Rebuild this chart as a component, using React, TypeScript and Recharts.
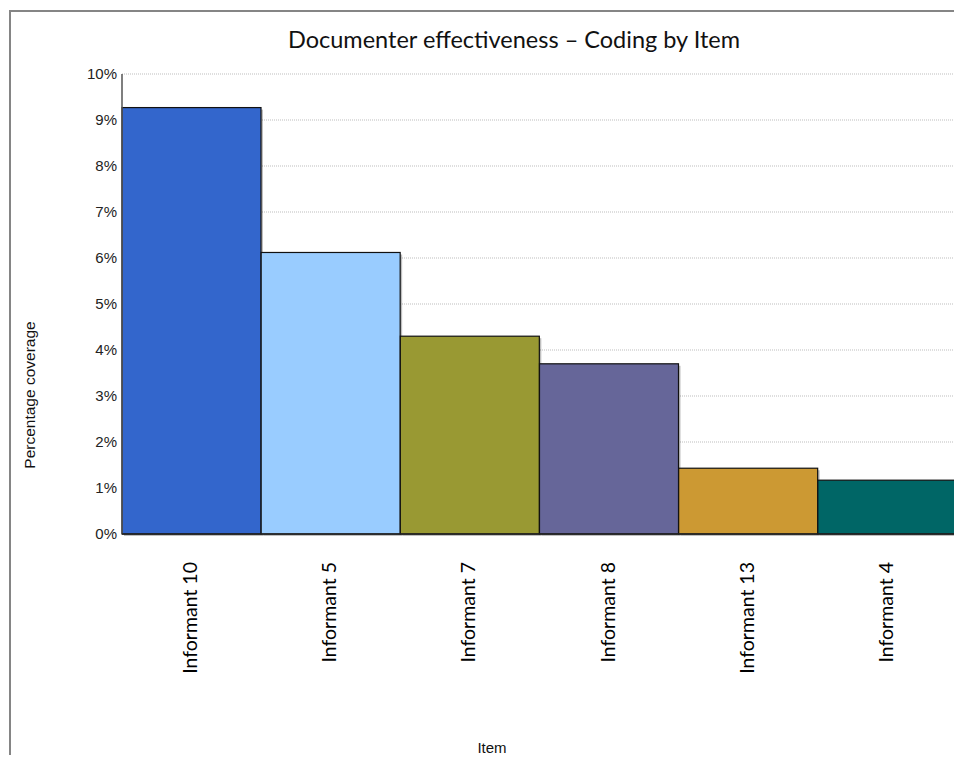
import { BarChart, Bar, XAxis, YAxis, CartesianGrid, Cell } from 'recharts'

const items = ['Informant 10', 'Informant 5', 'Informant 7', 'Informant 8', 'Informant 13', 'Informant 4']
const coverage = [9.27, 6.12, 4.3, 3.7, 1.43, 1.17]
const barColors = ['#3366CC', '#99CCFF', '#999933', '#666699', '#CC9933', '#006666']
const yTicks = [0, 1, 2, 3, 4, 5, 6, 7, 8, 9, 10]

const data = items.map((item, i) => ({ item, coverage: coverage[i] }))

const tickFont = '"Liberation Sans", Arial, sans-serif'
const titleFont = 'Lato, "Open Sans", sans-serif'

// bar with a soft drop shadow behind it
const ShadowBar = (props: any) => {
  const { x, y, width, height, fill } = props
  if (!height) return null
  return (
    <g>
      <rect x={x + 2} y={y + 2} width={width} height={height} fill="#000" fillOpacity={0.25} />
      <rect x={x} y={y} width={width} height={height} fill={fill} stroke="#111" strokeWidth={1.2} />
    </g>
  )
}

const ItemTick = (props: any) => {
  const { x, y, payload } = props
  return (
    <text
      x={x - 2}
      y={y}
      transform={`rotate(-90, ${x - 2}, ${y})`}
      textAnchor="end"
      dominantBaseline="central"
      fontFamily={titleFont}
      fontSize={19.5}
      fill="#000"
    >
      {payload.value}
    </text>
  )
}

export default function App() {
  return (
    <div style={{ position: 'relative', width: 954, height: 747, overflow: 'hidden', background: '#fff' }}>
      <div
        style={{
          position: 'absolute',
          left: 1,
          top: 2,
          width: 1000,
          height: 800,
          borderTop: '2px solid #858585',
          borderLeft: '2px solid #858585',
        }}
      />
      <div
        style={{
          position: 'absolute',
          left: 0,
          width: 1012,
          top: 17,
          textAlign: 'center',
          fontFamily: titleFont,
          fontSize: 23.5,
          color: '#111',
        }}
      >
        Documenter effectiveness – Coding by Item
      </div>

      <BarChart
        width={954}
        height={747}
        data={data}
        margin={{ top: 66, right: 5, left: 0, bottom: 71 }}
        barCategoryGap={0}
        style={{ position: 'absolute', left: 0, top: 0 }}
      >
        <CartesianGrid vertical={false} stroke="#bdbdbd" strokeDasharray="1 1" />
        <YAxis
          width={114}
          domain={[0, 10]}
          ticks={yTicks}
          tickFormatter={(v: number) => `${v}%`}
          tickLine={false}
          tickSize={0}
          tickMargin={5}
          axisLine={{ stroke: '#555', strokeWidth: 1.5 }}
          tick={{ fontFamily: tickFont, fontSize: 15, fill: '#222' }}
          interval={0}
        />
        <XAxis
          dataKey="item"
          height={150}
          tickLine={false}
          tickSize={0}
          tickMargin={28}
          axisLine={{ stroke: '#222', strokeWidth: 1.5 }}
          tick={<ItemTick />}
          interval={0}
        />
        <Bar dataKey="coverage" shape={<ShadowBar />} isAnimationActive={false}>
          {data.map((d, i) => (
            <Cell key={d.item} fill={barColors[i]} />
          ))}
        </Bar>
      </BarChart>

      <div
        style={{
          position: 'absolute',
          left: 22,
          top: 387,
          transform: 'translate(-50%, -50%) rotate(-90deg)',
          whiteSpace: 'nowrap',
          fontFamily: tickFont,
          fontSize: 15.5,
          color: '#111',
        }}
      >
        Percentage coverage
      </div>
      <div
        style={{
          position: 'absolute',
          left: 484,
          top: 739,
          transform: 'translate(-50%, -50%)',
          fontFamily: tickFont,
          fontSize: 15,
          color: '#111',
        }}
      >
        Item
      </div>
    </div>
  )
}
